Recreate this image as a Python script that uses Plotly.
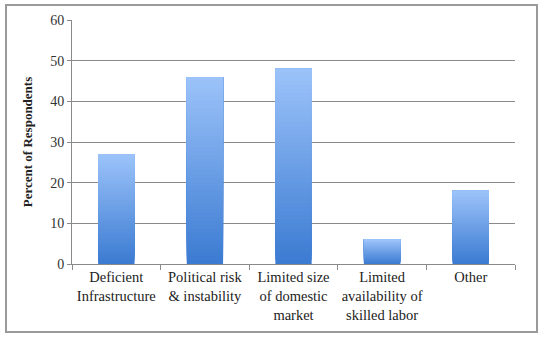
import plotly.graph_objects as go

categories = [
    "Deficient<br>Infrastructure",
    "Political risk<br>& instability",
    "Limited size<br>of domestic<br>market",
    "Limited<br>availability of<br>skilled labor",
    "Other",
]
percent = [27, 46, 48, 6, 18]
y_ticks = [0, 10, 20, 30, 40, 50, 60]

W, H = 540, 338
L, R, T, B = 72, 25, 20, 74
SERIF = "Liberation Serif, Times New Roman, serif"

# vertical gradient: dark at the base, light at the top
dark = (60, 123, 210)
light = (157, 196, 250)
steps = 48


def mix(f):
    return "rgb({},{},{})".format(*[round(d + (l - d) * f) for d, l in zip(dark, light)])


fig = go.Figure()
for i in range(steps):
    f = i / steps
    fig.add_trace(go.Bar(
        x=categories,
        y=[v * (1 - f) for v in percent],
        base=[v * f for v in percent],
        marker=dict(color=mix(f), line=dict(width=0)),
        width=0.41,
        hoverinfo="skip",
        showlegend=False,
    ))

pw, ph = W - L - R, H - T - B
frame = dict(x0=(6 - L) / pw, x1=(537 - L) / pw, y0=(H - B - 332) / ph, y1=(H - B - 5) / ph)

fig.update_layout(
    width=W, height=H,
    margin=dict(l=L, r=R, t=T, b=B),
    barmode="overlay",
    paper_bgcolor="white",
    plot_bgcolor="white",
    font=dict(family=SERIF, size=14, color="#222"),
    xaxis=dict(
        type="category",
        tickson="boundaries",
        ticks="outside", ticklen=5, tickcolor="#8a8a8a",
        showline=True, linecolor="#8a8a8a", linewidth=1,
        showgrid=False,
        tickangle=0,
        automargin=False,
        tickfont=dict(family=SERIF, size=14.5, color="#222"),
        fixedrange=True,
    ),
    yaxis=dict(
        range=[0, 60],
        tickvals=y_ticks,
        ticks="outside", ticklen=4, tickcolor="#8a8a8a",
        showline=True, linecolor="#8a8a8a", linewidth=1,
        showgrid=True, gridcolor="#8a8a8a", gridwidth=1,
        zeroline=False,
        automargin=False,
        tickfont=dict(family=SERIF, size=14, color="#333"),
        title=dict(text="<b>Percent of Respondents</b>", standoff=14,
                   font=dict(family=SERIF, size=13, color="#222")),
        fixedrange=True,
    ),
    shapes=[dict(
        type="rect", xref="paper", yref="paper",
        line=dict(color="#9a9a9a", width=2),
        **frame,
    )],
)

fig.write_html("out.html")
